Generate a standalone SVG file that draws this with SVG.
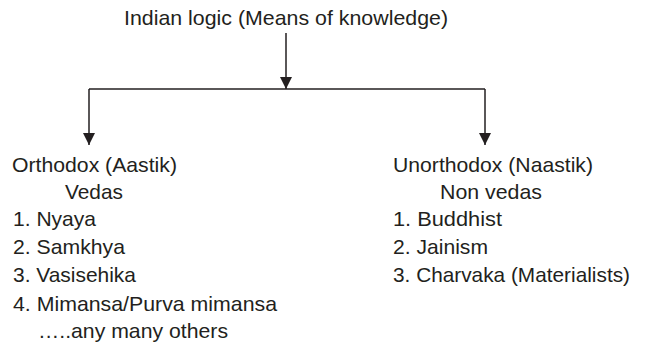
<svg xmlns="http://www.w3.org/2000/svg" width="646" height="345" viewBox="0 0 646 345">
<defs>
<marker id="arr" viewBox="0 0 12 12" refX="12" refY="6" markerWidth="12" markerHeight="12" markerUnits="userSpaceOnUse" orient="auto">
<path d="M0,0 L12,6 L0,12 z" fill="#231f20"/>
</marker>
<style>
text{font-family:"Liberation Sans",Arial,sans-serif;font-size:21px;fill:#231f20}
.c{fill:none;stroke:#231f20;stroke-width:1.5}
</style>
</defs>
<rect width="646" height="345" fill="#fff"/>
<g id="root"><text x="124" y="25" textLength="324" lengthAdjust="spacingAndGlyphs">Indian logic (Means of knowledge)</text></g>
<g id="connectors">
<path class="c" d="M286,33 V89" marker-end="url(#arr)"/>
<path class="c" d="M89,89 H485"/>
<path class="c" d="M89,89 V145" marker-end="url(#arr)"/>
<path class="c" d="M485,89 V145" marker-end="url(#arr)"/>
</g>
<g id="orthodox">
<text x="12" y="172" textLength="165" lengthAdjust="spacingAndGlyphs">Orthodox (Aastik)</text>
<text x="65" y="199" textLength="58" lengthAdjust="spacingAndGlyphs">Vedas</text>
<text x="13" y="226" textLength="83" lengthAdjust="spacingAndGlyphs">1. Nyaya</text>
<text x="13" y="254" textLength="112" lengthAdjust="spacingAndGlyphs">2. Samkhya</text>
<text x="13" y="282" textLength="123" lengthAdjust="spacingAndGlyphs">3. Vasisehika</text>
<text x="13" y="311" textLength="264" lengthAdjust="spacingAndGlyphs">4. Mimansa/Purva mimansa</text>
<text x="38" y="338" textLength="190" lengthAdjust="spacingAndGlyphs">…..any many others</text>
</g>
<g id="unorthodox">
<text x="393" y="172" textLength="200" lengthAdjust="spacingAndGlyphs">Unorthodox (Naastik)</text>
<text x="440" y="199" textLength="102" lengthAdjust="spacingAndGlyphs">Non vedas</text>
<text x="393" y="226" textLength="109" lengthAdjust="spacingAndGlyphs">1. Buddhist</text>
<text x="393" y="254" textLength="95" lengthAdjust="spacingAndGlyphs">2. Jainism</text>
<text x="393" y="282" textLength="237" lengthAdjust="spacingAndGlyphs">3. Charvaka (Materialists)</text>
</g>
</svg>
